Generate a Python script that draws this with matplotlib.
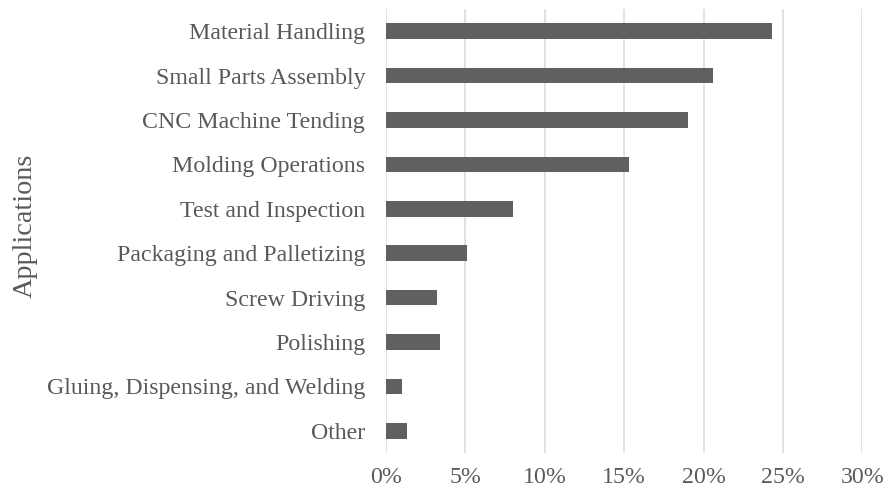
import matplotlib.pyplot as plt
from matplotlib.ticker import PercentFormatter

plt.rcParams['font.family'] = ['Liberation Serif', 'DejaVu Serif']

# Share of collaborative robot applications, top to bottom
applications = [
    "Material Handling",
    "Small Parts Assembly",
    "CNC Machine Tending",
    "Molding Operations",
    "Test and Inspection",
    "Packaging and Palletizing",
    "Screw Driving",
    "Polishing",
    "Gluing, Dispensing, and Welding",
    "Other",
]
shares = [24.3, 20.6, 19.0, 15.3, 8.0, 5.1, 3.2, 3.4, 1.0, 1.3]
x_ticks = [0, 5, 10, 15, 20, 25, 30]

text_color = "#595959"
bar_color = "#606060"
grid_color = "#d9d9d9"
font_size = 17.2

fig = plt.figure(figsize=(8.84, 4.96), dpi=100)
ax = fig.add_axes([0.4367, 0.0867, 0.5388, 0.8952])

y_pos = list(range(len(applications)))
ax.barh(y_pos, shares, height=0.355, color=bar_color, zorder=3)

ax.set_xlim(0, 30)
ax.set_ylim(len(applications) - 0.5, -0.5)
ax.set_xticks(x_ticks)
ax.xaxis.set_major_formatter(PercentFormatter(decimals=0))
ax.set_yticks(y_pos)
ax.set_yticklabels(applications)

ax.grid(axis="x", color=grid_color, linewidth=1.1, zorder=0)
ax.grid(axis="y", visible=False)
for side in ["top", "right", "bottom", "left"]:
    ax.spines[side].set_visible(False)

ax.tick_params(axis="both", length=0, colors=text_color, labelsize=font_size)
ax.tick_params(axis="y", pad=15)
ax.tick_params(axis="x", pad=10)

ax.set_ylabel("Applications", fontsize=20.3, color=text_color)
ax.yaxis.set_label_coords(-0.732, 0.512)

fig.savefig("out.png", dpi=100)
